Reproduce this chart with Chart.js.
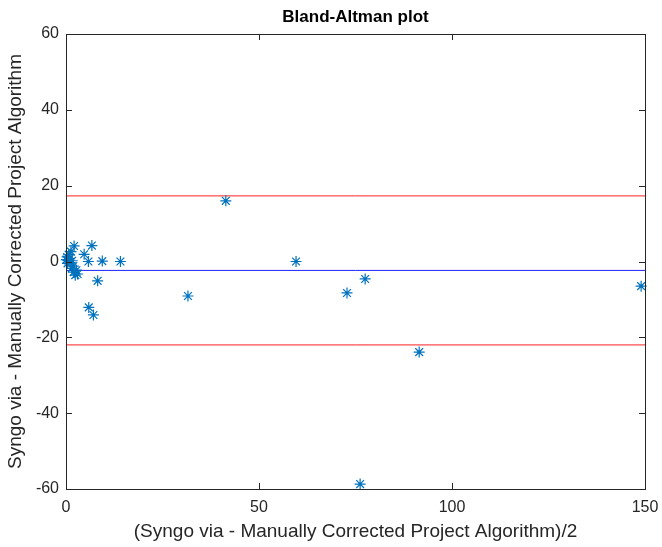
<!DOCTYPE html>
<html>
<head>
<meta charset="utf-8">
<script src="https://cdn.jsdelivr.net/npm/chart.js@4"></script>
<style>
  html, body { margin: 0; padding: 0; background: #fff; }
  #wrap { width: 662px; height: 547px; position: relative; }
</style>
</head>
<body>
<div id="wrap"><canvas id="baChart"></canvas></div>
<script>
// mean of the two methods (x) and their difference (y)
const meanValues = [0.1, 0.3, 0.5, 0.7, 0.9, 1.1, 0.4, 1.3, 1.6, 1.9, 2.1, 2.0, 2.4, 2.7, 3.0, 1.5,
  4.7, 5.8, 6.7, 8.2, 9.4, 14.1, 5.9, 7.1, 31.6, 41.4, 59.6, 72.8, 77.5, 76.2, 91.5, 149];
const diffValues = [0.5, 1.2, 0.3, 1.8, 0.8, -0.3, -0.5, 2.6, 0.2, -1.2, 4.1, -2.8, -3.6, -2.3, -3.3, -1.8,
  1.9, 0, 4.2, -5.1, 0.1, 0, -12.1, -14.1, -9.1, 16.0, 0, -8.3, -4.6, -58.7, -23.9, -6.5];

const meanDiff = -2.35;
const upperLimit = 17.3;
const lowerLimit = -22.0;

const xTicks = [0, 50, 100, 150];
const yTicks = [-60, -40, -20, 0, 20, 40, 60];

const points = meanValues.map((x, i) => ({ x: x, y: diffValues[i] }));
const xMin = xTicks[0], xMax = xTicks[xTicks.length - 1];
const fontFam = '"Liberation Sans", Arial, sans-serif';

// box around the axes + inward ticks, and the title (MATLAB style)
const boxPlugin = {
  id: 'boxPlugin',
  afterDraw(chart) {
    const { ctx, chartArea: a, scales: { x, y } } = chart;
    ctx.save();
    ctx.strokeStyle = '#262626';
    ctx.lineWidth = 1;
    ctx.strokeRect(Math.round(a.left) + 0.5, Math.round(a.top) + 0.5,
      Math.round(a.right - a.left), Math.round(a.bottom - a.top));
    ctx.beginPath();
    xTicks.forEach(v => {
      const px = Math.round(x.getPixelForValue(v)) + 0.5;
      ctx.moveTo(px, a.bottom); ctx.lineTo(px, a.bottom - 6);
      ctx.moveTo(px, a.top); ctx.lineTo(px, a.top + 6);
    });
    yTicks.forEach(v => {
      const py = Math.round(y.getPixelForValue(v)) + 0.5;
      ctx.moveTo(a.left, py); ctx.lineTo(a.left + 6, py);
      ctx.moveTo(a.right, py); ctx.lineTo(a.right - 6, py);
    });
    ctx.stroke();

    ctx.fillStyle = '#000';
    ctx.font = 'bold 17px ' + fontFam;
    ctx.textAlign = 'center';
    ctx.textBaseline = 'middle';
    ctx.fillText('Bland-Altman plot', (a.left + a.right) / 2, 17);
    ctx.restore();
  }
};

const ctx = document.getElementById('baChart').getContext('2d');
const baChart = new Chart(ctx, {
  type: 'scatter',
  data: {
    datasets: [
      {
        data: [{ x: xMin, y: upperLimit }, { x: xMax, y: upperLimit }],
        type: 'line', borderColor: '#ff2020', borderWidth: 1, pointRadius: 0, order: 2
      },
      {
        data: [{ x: xMin, y: meanDiff }, { x: xMax, y: meanDiff }],
        type: 'line', borderColor: '#2020ff', borderWidth: 1, pointRadius: 0, order: 2
      },
      {
        data: [{ x: xMin, y: lowerLimit }, { x: xMax, y: lowerLimit }],
        type: 'line', borderColor: '#ff2020', borderWidth: 1, pointRadius: 0, order: 2
      },
      {
        data: points,
        pointStyle: 'star',
        pointRadius: 5.5,
        pointBorderWidth: 1.2,
        borderColor: '#0072BD',
        backgroundColor: '#0072BD',
        clip: false,
        order: 1
      }
    ]
  },
  options: {
    responsive: true,
    maintainAspectRatio: false,
    animation: false,
    layout: { padding: { top: 34, right: 17, left: 0, bottom: 0 } },
    plugins: {
      legend: { display: false },
      tooltip: { enabled: false }
    },
    scales: {
      x: {
        type: 'linear',
        min: xMin, max: xMax,
        afterBuildTicks: s => { s.ticks = xTicks.map(v => ({ value: v })); },
        afterFit: s => { s.height = 58; s.paddingLeft = 0; s.paddingRight = 0; },
        grid: { display: false, drawTicks: false },
        border: { display: false },
        ticks: {
          color: '#262626', padding: 9,
          font: { family: fontFam, size: 16 }
        },
        title: {
          display: true,
          text: '(Syngo via - Manually Corrected Project Algorithm)/2',
          color: '#262626',
          padding: { top: 0, bottom: 4 },
          font: { family: fontFam, size: 19 }
        }
      },
      y: {
        type: 'linear',
        min: yTicks[0], max: yTicks[yTicks.length - 1],
        afterBuildTicks: s => { s.ticks = yTicks.map(v => ({ value: v })); },
        afterFit: s => { s.width = 66; s.paddingTop = 0; s.paddingBottom = 0; },
        grid: { display: false, drawTicks: false },
        border: { display: false },
        ticks: {
          color: '#262626', padding: 7,
          font: { family: fontFam, size: 16 }
        },
        title: {
          display: true,
          text: 'Syngo via - Manually Corrected Project Algorithm',
          color: '#262626',
          padding: { top: 4, bottom: 0 },
          font: { family: fontFam, size: 19 }
        }
      }
    }
  },
  plugins: [boxPlugin]
});
</script>
</body>
</html>
